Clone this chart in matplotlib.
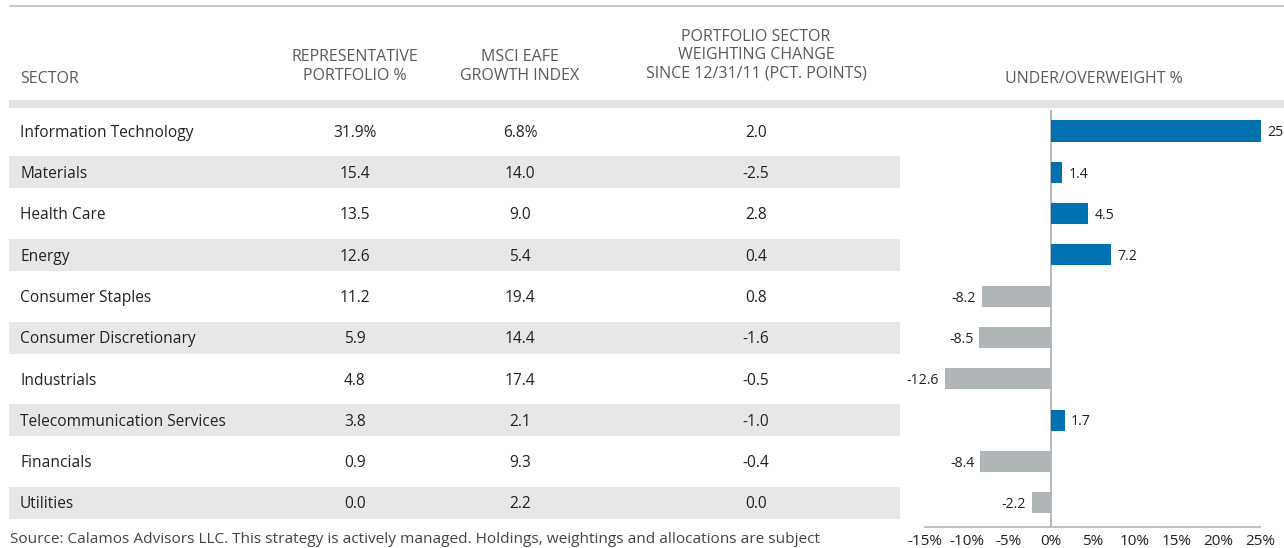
import matplotlib
matplotlib.use("Agg")
import matplotlib.pyplot as plt
from matplotlib.patches import Rectangle

plt.rcParams['font.family'] = ['Open Sans', 'DejaVu Sans']

sectors = ["Information Technology", "Materials", "Health Care", "Energy",
           "Consumer Staples", "Consumer Discretionary", "Industrials",
           "Telecommunication Services", "Financials", "Utilities"]
portfolio = ["31.9%", "15.4", "13.5", "12.6", "11.2", "5.9", "4.8", "3.8", "0.9", "0.0"]
index_w = ["6.8%", "14.0", "9.0", "5.4", "19.4", "14.4", "17.4", "2.1", "9.3", "2.2"]
change = ["2.0", "-2.5", "2.8", "0.4", "0.8", "-1.6", "-0.5", "-1.0", "-0.4", "0.0"]
under_over = [25.1, 1.4, 4.5, 7.2, -8.2, -8.5, -12.6, 1.7, -8.4, -2.2]
xticks = [-15, -10, -5, 0, 5, 10, 15, 20, 25]

W, H = 1284, 548
fig = plt.figure(figsize=(W / 100, H / 100), dpi=100)
ax = fig.add_axes([0, 0, 1, 1])
ax.set_xlim(0, W)
ax.set_ylim(H, 0)
ax.axis('off')

hdr_col = '#5a5a5a'
txt_col = '#222222'
row0, dy = 131, 41.3
fs_hdr = 11.5
fs_body = 11.2
tshift = 1.8

# top rule and header band
ax.plot([10, W], [6, 6], color='#b9bdc1', lw=1.2)
ax.add_patch(Rectangle((9, 100), W - 9, 7.5, color='#e1e3e5', lw=0))

# headers
ax.text(20, 77 + tshift, "SECTOR", ha='left', va='center', fontsize=fs_hdr, color=hdr_col)
ax.text(355, 65 + tshift, "REPRESENTATIVE\nPORTFOLIO %", ha='center', va='center',
        fontsize=fs_hdr, color=hdr_col, linespacing=1.22)
ax.text(520, 65 + tshift, "MSCI EAFE\nGROWTH INDEX", ha='center', va='center',
        fontsize=fs_hdr, color=hdr_col, linespacing=1.22)
ax.text(756, 53.5 + tshift, "PORTFOLIO SECTOR\nWEIGHTING CHANGE\nSINCE 12/31/11 (PCT. POINTS)",
        ha='center', va='center', fontsize=fs_hdr, color=hdr_col, linespacing=1.22)
ax.text(1094, 77 + tshift, "UNDER/OVERWEIGHT %", ha='center', va='center',
        fontsize=fs_hdr, color=hdr_col)

for i, s in enumerate(sectors):
    y = row0 + dy * i
    if i % 2 == 1:
        ax.add_patch(Rectangle((9, y - 16), 891, 32, color='#e5e7e9', lw=0))
    ty = y + tshift
    ax.text(20, ty, s, ha='left', va='center', fontsize=fs_body, color=txt_col)
    ax.text(355, ty, portfolio[i], ha='center', va='center', fontsize=fs_body, color=txt_col)
    ax.text(520, ty, index_w[i], ha='center', va='center', fontsize=fs_body, color=txt_col)
    ax.text(756, ty, change[i], ha='center', va='center', fontsize=fs_body, color=txt_col)

ax.text(10, 538 + tshift, "Source: Calamos Advisors LLC. This strategy is actively managed. Holdings, "
        "weightings and allocations are subject", ha='left', va='center',
        fontsize=11.1, color='#444444')

# bar chart
x0, x1 = 925, 1260
ytop, ybot = 110, 527
bx = fig.add_axes([x0 / W, (H - ybot) / H, (x1 - x0) / W, (ybot - ytop) / H])
bx.patch.set_alpha(0)
bx.set_xlim(-15, 25)
bx.set_ylim((ybot - row0) / dy, (ytop - row0) / dy)
colors = ['#0070ae' if v > 0 else '#b0b5b8' for v in under_over]
ypos = list(range(len(under_over)))
bx.barh(ypos, under_over, height=0.51, color=colors, clip_on=False, zorder=2)
bx.axvline(0, color='#a8adb1', lw=1.2, zorder=1)
for y, v in zip(ypos, under_over):
    if v > 0:
        bx.annotate(f"{v:.1f}", (v, y), xytext=(6, -tshift), textcoords='offset pixels',
                    ha='left', va='center', fontsize=10.2, color=txt_col, annotation_clip=False)
    else:
        bx.annotate(f"{v:.1f}", (v, y), xytext=(-6, -tshift), textcoords='offset pixels',
                    ha='right', va='center', fontsize=10.2, color=txt_col, annotation_clip=False)
for sp in ['top', 'right', 'left']:
    bx.spines[sp].set_visible(False)
bx.spines['bottom'].set_color('#b0b4b8')
bx.spines['bottom'].set_linewidth(1.2)
bx.set_yticks([])
bx.set_xticks(xticks)
bx.set_xticklabels([f"{t}%" for t in xticks])
bx.tick_params(axis='x', length=0, pad=5, labelsize=11, labelcolor=txt_col)

fig.savefig("out.png", dpi=100)
